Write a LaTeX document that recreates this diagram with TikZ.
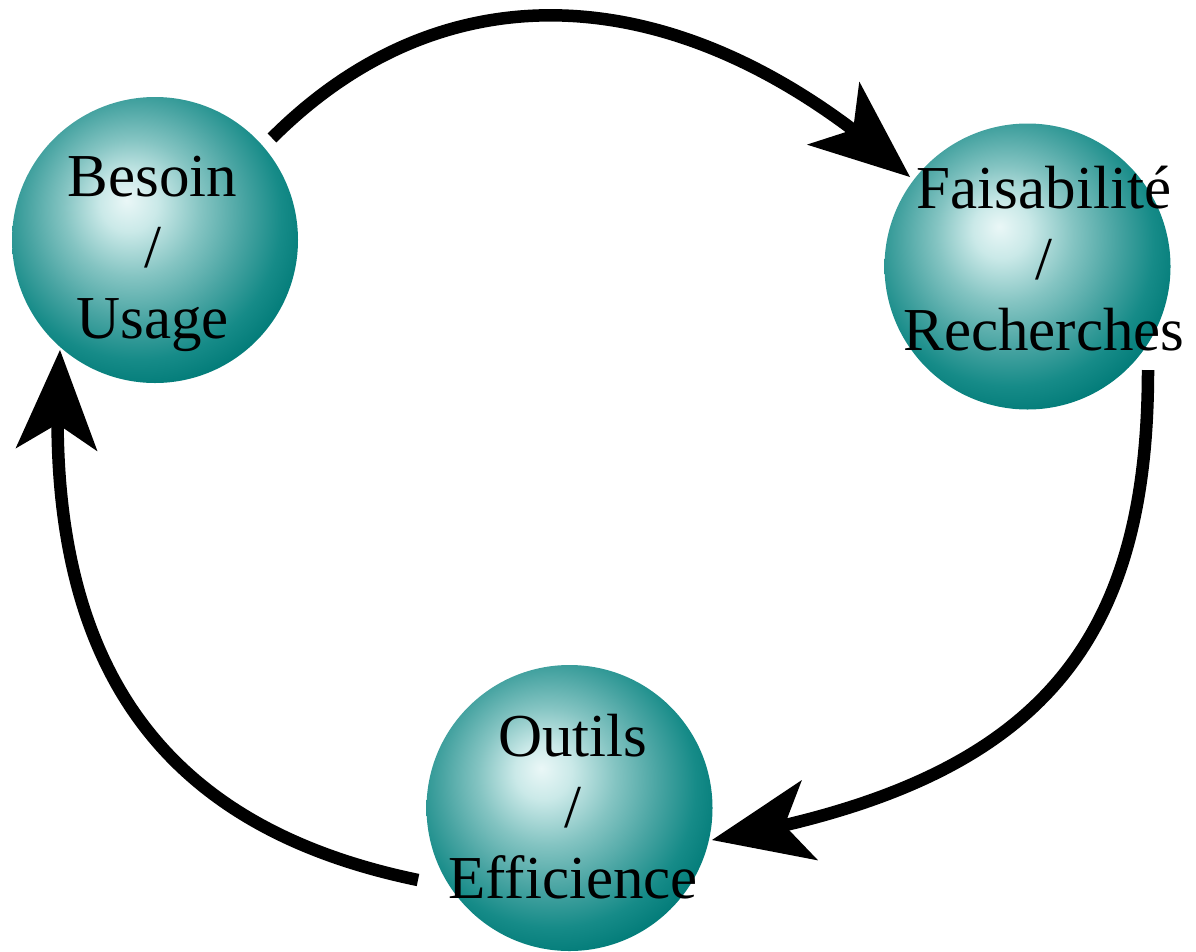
\documentclass[tikz,border=0pt]{standalone}
\usepackage{fontspec}
\setmainfont{Liberation Serif}
\usetikzlibrary{arrows.meta,bending}
\definecolor{c0}{RGB}{234,247,247}
\definecolor{c1}{RGB}{202,233,232}
\definecolor{c2}{RGB}{132,196,194}
\definecolor{c3}{RGB}{72,164,162}
\definecolor{c4}{RGB}{22,139,136}
\definecolor{c5}{RGB}{0,122,119}
\definecolor{c6}{RGB}{0,110,107}
\pgfdeclareradialshading{tealball}{\pgfpoint{-5bp}{7bp}}{color(0bp)=(c0); color(5bp)=(c1); color(12bp)=(c2); color(19bp)=(c3); color(25bp)=(c4); color(30bp)=(c5); color(60bp)=(c6)}
\tikzset{
  sphere/.style={circle, minimum size=286pt, inner sep=0pt, draw=none, shading=tealball},
  lbl/.style={align=center, inner sep=0pt, font=\fontsize{61}{71}\selectfont, text=black},
  cyc/.style={line width=12.5pt, draw=black, -{Stealth[length=100pt,width=82pt,inset=26pt,line width=0pt]}}
}
\begin{document}
\begin{tikzpicture}[x=1pt,y=-1pt]
\useasboundingbox (0,0) rectangle (1196,951);
\node[sphere] (bs) at (155,240) {};
\node[sphere] (fs) at (1027.5,266.5) {};
\node[sphere] (os) at (569.5,808) {};
\node[lbl] (bt) at (152.5,253.5) {Besoin\\/\\Usage};
\node[lbl] (ft) at (1044,258.5) {Faisabilité\\/\\Recherches};
\node[lbl] (ot) at (573,807) {Outils\\/\\Efficience};
\coordinate (a1s) at (272,138);
\coordinate (a1e) at (910,177);
\coordinate (a2s) at (1148,370);
\coordinate (a2e) at (712,840);
\coordinate (a3s) at (418,880);
\coordinate (a3e) at (60,350);
\draw[cyc] (a1s) .. controls (450,-40) and (690,-22) .. (a1e);
\draw[cyc] (a2s) .. controls (1148,650) and (1035,784) .. (a2e);
\draw[cyc] (a3s) .. controls (176,830) and (37,680) .. (a3e);
\end{tikzpicture}
\end{document}
